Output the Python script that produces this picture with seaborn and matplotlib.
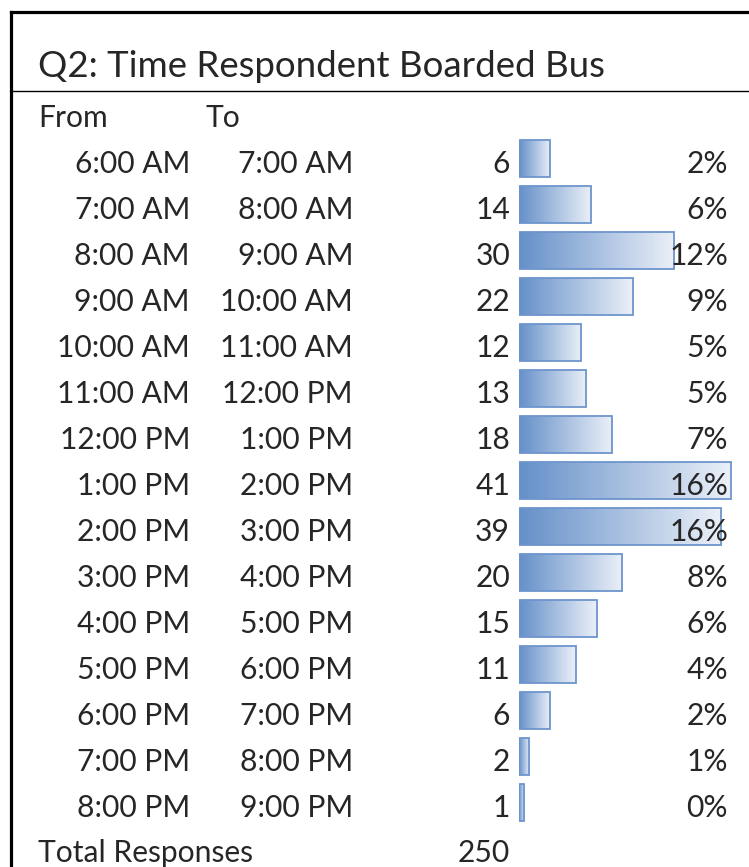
import numpy as np
import pandas as pd
import matplotlib
matplotlib.use("Agg")
import matplotlib.pyplot as plt
import seaborn as sns
from matplotlib.colors import LinearSegmentedColormap

# Данные таблицы
title = "Q2: Time Respondent Boarded Bus"
from_times = ["6:00 AM", "7:00 AM", "8:00 AM", "9:00 AM", "10:00 AM", "11:00 AM",
              "12:00 PM", "1:00 PM", "2:00 PM", "3:00 PM", "4:00 PM", "5:00 PM",
              "6:00 PM", "7:00 PM", "8:00 PM"]
to_times = ["7:00 AM", "8:00 AM", "9:00 AM", "10:00 AM", "11:00 AM", "12:00 PM",
            "1:00 PM", "2:00 PM", "3:00 PM", "4:00 PM", "5:00 PM", "6:00 PM",
            "7:00 PM", "8:00 PM", "9:00 PM"]
counts = [6, 14, 30, 22, 12, 13, 18, 41, 39, 20, 15, 11, 6, 2, 1]
total_label = "Total Responses"

sns.set_theme(style="white")
plt.rcParams['font.family'] = ['Lato', 'DejaVu Sans']

W, H = 749, 867
fig = plt.figure(figsize=(W / 100, H / 100), dpi=100)

# Геометрия строк (в пикселях)
n = len(counts)
row0, step = 158.5, 46
bar_left, px_per_unit, xmax = 519, 5.17, 45
top = row0 - step / 2

# Оси для гистограммы (data bars)
ax_bar = fig.add_axes([bar_left / W, 1 - (top + n * step) / H,
                       xmax * px_per_unit / W, n * step / H])
df = pd.DataFrame({"slot": from_times, "count": counts})
sns.barplot(data=df, x="count", y="slot", orient="h", ax=ax_bar,
            width=0.82, color="#6590c9", saturation=1)

# градиентная заливка как в Excel
cmap = LinearSegmentedColormap.from_list("databar", ["#6590c9", "#ebf0f8"])
grad = np.linspace(0, 1, 256).reshape(1, -1)
for p in list(ax_bar.patches):
    x0, y0, w, h = p.get_x(), p.get_y(), p.get_width(), p.get_height()
    im = ax_bar.imshow(grad, cmap=cmap, aspect="auto",
                       extent=[x0, x0 + w, y0 + h, y0], zorder=1)
    im.set_clip_path(p)
    p.set_facecolor("none")
    p.set_edgecolor("#6d95cd")
    p.set_linewidth(1.3)
    p.set_zorder(2)
ax_bar.set_xlim(0, xmax)
ax_bar.set_ylim(n - 0.5, -0.5)
ax_bar.axis("off")

# Верхний слой с текстом и рамкой
ax = fig.add_axes([0, 0, 1, 1])
ax.set_xlim(0, W)
ax.set_ylim(H, 0)
ax.axis("off")
ax.patch.set_alpha(0)

# рамка
ax.plot([10.5, 10.5], [11.5, H], color="black", lw=2.3, solid_capstyle="projecting")
ax.plot([10.5, W], [11.5, 11.5], color="black", lw=2.3, solid_capstyle="projecting")
ax.plot([10, W], [91, 91], color="black", lw=1.0)

fs = 21.6
ax.text(38, 77, title, fontsize=26.4, ha="left", va="baseline")
ax.text(38, 127, "From", fontsize=fs, ha="left", va="baseline")
ax.text(205, 127, "To", fontsize=fs, ha="left", va="baseline")

total = sum(counts)
for i, (f, t, c) in enumerate(zip(from_times, to_times, counts)):
    yb = 173 + step * i
    ax.text(190, yb, f, fontsize=fs, ha="right", va="baseline")
    ax.text(353, yb, t, fontsize=fs, ha="right", va="baseline")
    ax.text(510, yb, str(c), fontsize=fs, ha="right", va="baseline")
    ax.text(728, yb, f"{c / total:.0%}", fontsize=fs, ha="right", va="baseline")

ax.text(38, 862, total_label, fontsize=fs, ha="left", va="baseline")
ax.text(510, 862, str(total), fontsize=fs, ha="right", va="baseline")

fig.savefig("out.png", dpi=100)
